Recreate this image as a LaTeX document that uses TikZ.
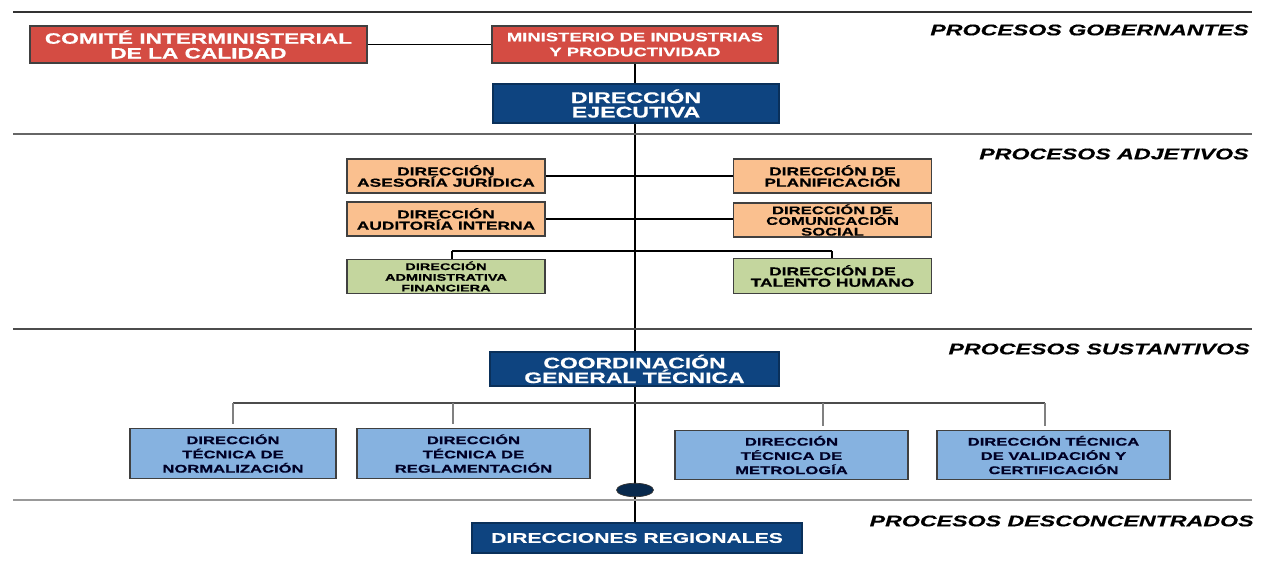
\documentclass[tikz,border=0pt]{standalone}
\usepackage{fontspec}
\newfontfamily\orgfont{Liberation Sans}[FakeStretch=1.5, FakeBold=0.5]
\usepackage{xcolor}
\usetikzlibrary{positioning, shapes.geometric, backgrounds}

\definecolor{govred}{RGB}{212,76,67}
\definecolor{execblue}{RGB}{14,68,128}
\definecolor{adjorange}{RGB}{250,192,143}
\definecolor{adjgreen}{RGB}{196,214,158}
\definecolor{sustblue}{RGB}{134,178,224}

\begin{document}
\begin{tikzpicture}[x=0.02cm, y=-0.02cm,
        box/.style={rectangle, draw=black!75, line width=0.8pt, inner sep=0pt, align=center},
        govbox/.style={box, fill=govred, text=white, minimum height=0.74cm,
          font=\orgfont\bfseries\fontsize{8.6}{8.4}\selectfont},
        execbox/.style={box, fill=execblue, draw=execblue!70!black, text=white,
          font=\orgfont\bfseries\fontsize{8.8}{8.2}\selectfont},
        adjbox/.style={box, fill=adjorange, minimum width=3.96cm, minimum height=0.68cm,
          font=\orgfont\bfseries\fontsize{6.6}{6.4}\selectfont},
        supbox/.style={box, fill=adjgreen, minimum width=3.96cm, minimum height=0.69cm,
          font=\orgfont\bfseries\fontsize{6.6}{6.4}\selectfont},
        tecbox/.style={box, fill=sustblue, minimum width=4.66cm, minimum height=0.99cm,
          text=black!85!blue, font=\orgfont\bfseries\fontsize{6.3}{8.1}\selectfont},
        proc/.style={anchor=east, inner sep=0pt,
          font=\orgfont\bfseries\itshape\fontsize{8.8}{10}\selectfont},
        sep/.style={line width=0.9pt},
        spine/.style={line width=0.9pt, black},
        drop/.style={line width=1.3pt, black!50, shorten >=0.08cm}]

        % process levels
        \draw[sep, black!80] (13,12) -- (1252,12);
        \draw[sep, black!60] (13,134) -- (1252,134);
        \draw[sep, black!70] (13,329) -- (1252,329);
        \draw[sep, black!40] (13,500) -- (1252,500);

        \node[proc] (gob)  at (1249,30)  {PROCESOS GOBERNANTES};
        \node[proc] (adj)  at (1249,154) {PROCESOS ADJETIVOS};
        \node[proc] (sust) at (1250,349) {PROCESOS SUSTANTIVOS};
        \node[proc] (desc) at (1254,521) {PROCESOS DESCONCENTRADOS};

        % governing
        \node[govbox, minimum width=6.74cm] (cic)   at (198.5,44.5) {COMITÉ INTERMINISTERIAL\\DE LA CALIDAD};
        \node[govbox, minimum width=5.72cm,
              font=\orgfont\bfseries\fontsize{7}{8.5}\selectfont] (mipro) at (635,44.5) {MINISTERIO DE INDUSTRIAS\\Y PRODUCTIVIDAD};
        \node[execbox, minimum width=5.72cm, minimum height=0.78cm] (ejec) at (636,103.5) {DIRECCIÓN\\EJECUTIVA};

        % adjective
        \node[adjbox] (juri)  at (446,176)   {DIRECCIÓN\\ASESORÍA JURÍDICA};
        \node[adjbox] (audi)  at (446,219)   {DIRECCIÓN\\AUDITORÍA INTERNA};
        \node[supbox, font=\orgfont\bfseries\fontsize{5.5}{6.1}\selectfont]
                      (admin) at (446,276.5) {DIRECCIÓN\\ADMINISTRATIVA\\FINANCIERA};
        \node[adjbox] (plan)  at (832.5,176) {DIRECCIÓN DE\\PLANIFICACIÓN};
        \node[adjbox, font=\orgfont\bfseries\fontsize{6.3}{6.1}\selectfont]
                      (comu)  at (832.5,220) {DIRECCIÓN DE\\COMUNICACIÓN\\SOCIAL};
        \node[supbox] (tal)   at (832.5,276) {DIRECCIÓN DE\\TALENTO HUMANO};

        % substantive
        \node[execbox, minimum width=5.78cm, minimum height=0.68cm,
              font=\orgfont\bfseries\fontsize{8.7}{8.4}\selectfont] (cgt) at (634.5,369) {COORDINACIÓN\\GENERAL TÉCNICA};
        \node[tecbox, minimum width=4.12cm] (norm)  at (233,453.5)  {DIRECCIÓN\\TÉCNICA DE\\NORMALIZACIÓN};
        \node[tecbox] (regl)  at (473.5,453.5) {DIRECCIÓN\\TÉCNICA DE\\REGLAMENTACIÓN};
        \node[tecbox] (metro) at (791.5,455)   {DIRECCIÓN\\TÉCNICA DE\\METROLOGÍA};
        \node[tecbox] (valid) at (1053.5,455)  {DIRECCIÓN TÉCNICA\\DE VALIDACIÓN Y\\CERTIFICACIÓN};

        % deconcentrated
        \node[ellipse, draw=black!80, fill=execblue!60!black, inner sep=0pt,
              minimum width=0.74cm, minimum height=0.27cm] (nexo) at (635,490) {};
        \node[execbox, minimum width=6.6cm, minimum height=0.6cm,
              font=\orgfont\bfseries\fontsize{8}{9}\selectfont] (dreg) at (637,538) {DIRECCIONES REGIONALES};

        \begin{scope}[on background layer]
          \fill[white] (0,0) rectangle (1262,562);
          % spine
          \draw[spine] (mipro.south) -- (mipro.south |- dreg.north);
          \draw[spine] (cic) -- (mipro);
          % adjective links
          \draw[spine] (juri) -- (plan);
          \draw[spine] (audi) -- (audi -| comu.west);
          \coordinate (ladm) at (452,251);
          \coordinate (rtal) at (832,251);
          \draw[spine] (ladm) -- (rtal);
          \draw[spine] (ladm) -- (ladm |- admin.north);
          \draw[spine] (rtal) -- (rtal |- tal.north);
          % technical directions
          \coordinate (tnorm) at (233,403);
          \coordinate (treg)  at (453,403);
          \coordinate (tmet)  at (823,403);
          \coordinate (tval)  at (1045,403);
          \draw[line width=0.9pt, black!70] (tnorm) -- (tval);
          \foreach \t/\b in {tnorm/norm, treg/regl, tmet/metro, tval/valid}
            \draw[drop] (\t) -- (\t |- \b.north);
        \end{scope}
      \end{tikzpicture}
\end{document}
